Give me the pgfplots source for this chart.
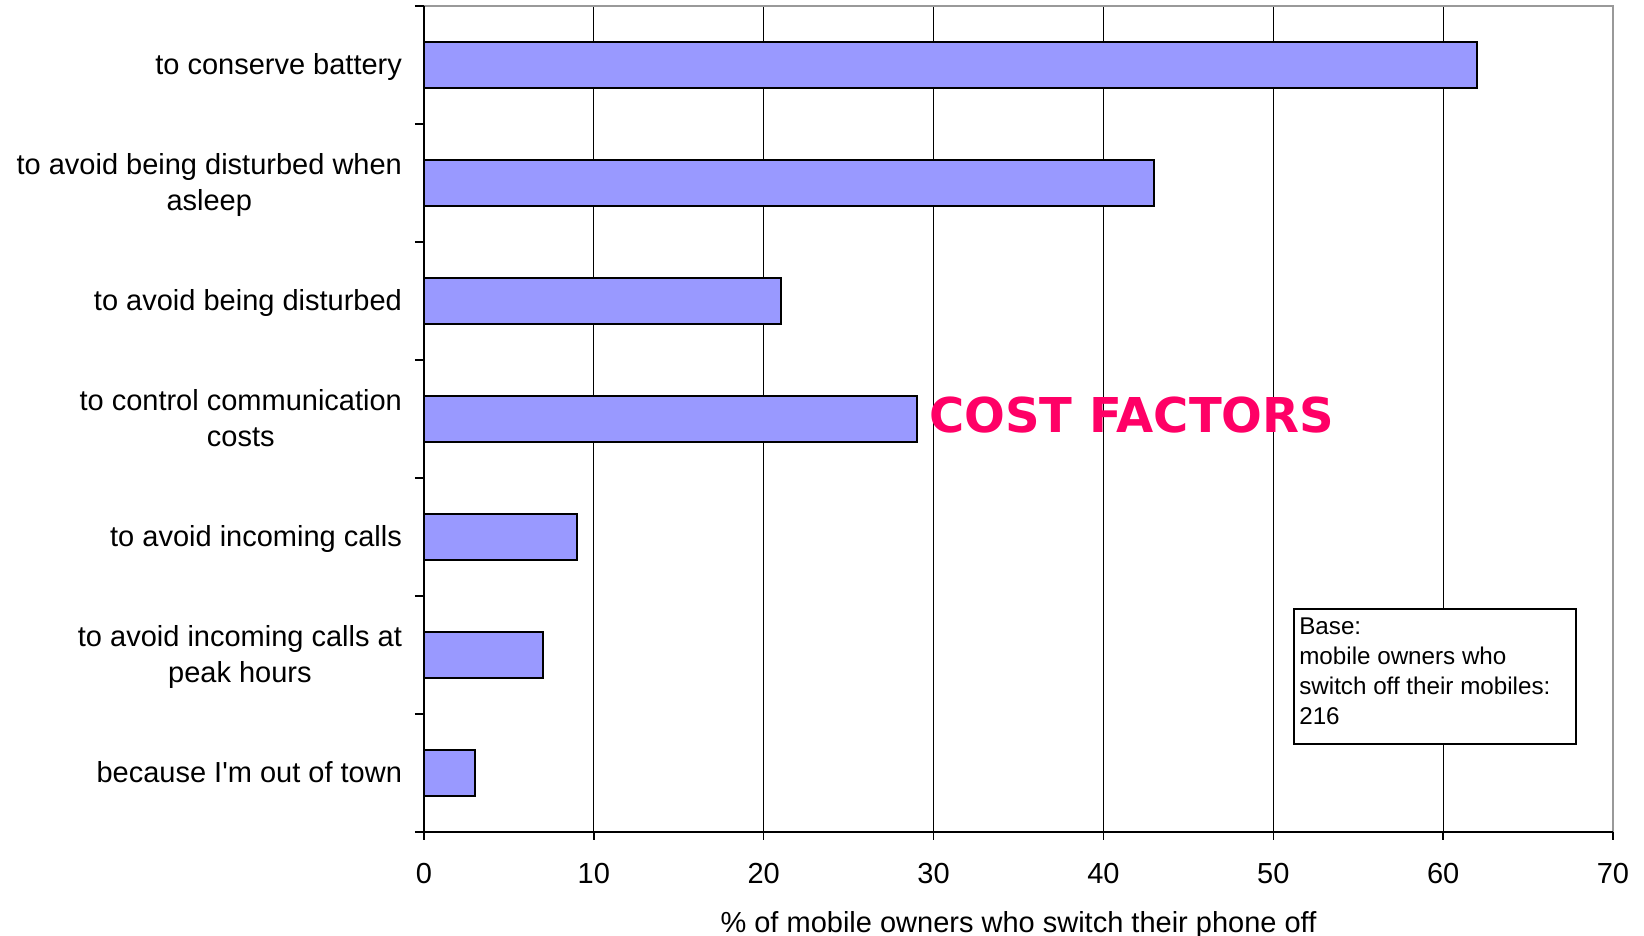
\documentclass[border=0pt]{standalone}
\usepackage{pgfplots}
\pgfplotsset{compat=1.18}
\usepackage{fontspec}
\setmainfont{Liberation Sans}
\newfontfamily\verd{DejaVu Sans}
\definecolor{barblue}{HTML}{9999FF}
\definecolor{costpink}{HTML}{FF0066}
\definecolor{framegray}{HTML}{999999}
\begin{document}
\begin{tikzpicture}
\begin{axis}[
  at={(0,0)}, anchor=south west,
  scale only axis, width=594.5pt, height=413pt,
  xmin=0, xmax=70, ymin=-0.5, ymax=6.5,
  xtick={0,10,...,70},
  ytick={0,...,6},
  yticklabels={{because I\textquotesingle m out of town\strut},{to avoid incoming calls at\strut\\peak hours\strut},{to avoid incoming calls\strut},{to control communication\strut\\costs\strut},{to avoid being disturbed\strut},{to avoid being disturbed when\strut\\asleep\strut},{to conserve battery\strut}},
  minor ytick={-0.5,0.5,...,6.5},
  xtick pos=left, ytick pos=left,
  tick align=outside,
  major tick length=4pt, minor tick length=4.5pt,
  major y tick style={draw=none},
  minor y tick style={black, line width=0.75pt},
  major x tick style={black, line width=0.75pt},
  axis line style={draw=none},
  xmajorgrids, major grid style={black, line width=0.5pt},
  tick label style={font=\fontsize{14.5}{17.6}\selectfont},
  yticklabel style={align=center, xshift=-3.5pt, yshift=-1.2pt},
  xticklabel style={yshift=-8pt},
  /pgf/number format/assume math mode=true,
  clip=false,
]
\addplot[xbar, bar width=0.39, fill=barblue, draw=black, line width=1pt]
  coordinates {(3,0) (7,1) (9,2) (29,3) (21,4) (43,5) (62,6)};
\draw[framegray, line width=1pt] (rel axis cs:0,1) -- (rel axis cs:1,1) -- (rel axis cs:1,0);
\draw[black, line width=1pt] (rel axis cs:0,1) -- (rel axis cs:0,0) -- (rel axis cs:1,0);
\node[anchor=west, inner sep=0pt, text=costpink, font=\verd\bfseries\fontsize{24}{28}\selectfont] at (axis cs:29.73,3.03) {COST FACTORS};
\draw[line width=0.75pt, fill=white] (axis cs:51.22,1.39) rectangle (axis cs:67.82,0.246);
\node[anchor=north west, align=left, inner sep=0pt, font=\fontsize{12.1}{15}\selectfont] at (axis cs:51.51,1.322) {Base:\\mobile owners who\\switch off their mobiles:\\216};
\end{axis}
\node[anchor=base, font=\fontsize{14.5}{17.3}\selectfont] at (297.25pt,-50.5pt) {\% of mobile owners who switch their phone off};
\pgfresetboundingbox
\path[use as bounding box] (-212pt,-52pt) rectangle (610pt,416pt);
\end{tikzpicture}
\end{document}
